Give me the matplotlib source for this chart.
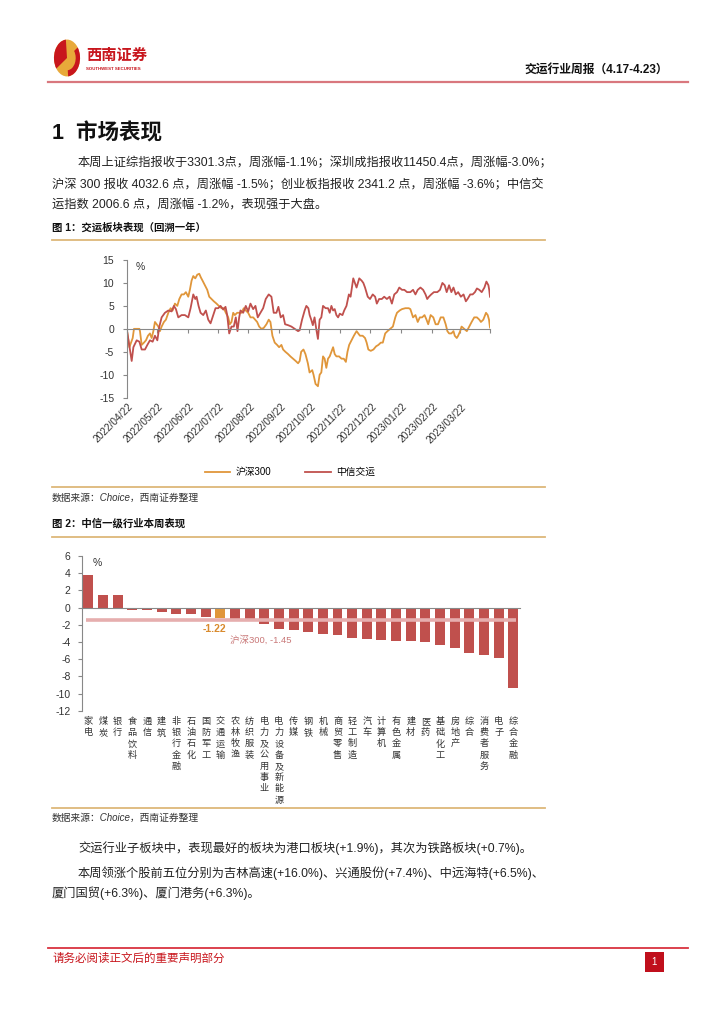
import matplotlib
matplotlib.use('Agg')
import matplotlib.pyplot as plt
import matplotlib.transforms as mtransforms
from matplotlib.patches import Rectangle, Circle, Wedge
from matplotlib.lines import Line2D
import pandas as pd

plt.rcParams['font.family'] = ['Liberation Sans', 'Noto Sans CJK SC', 'DejaVu Sans']
plt.rcParams['axes.unicode_minus'] = False

# ---------------- data: chart 1 (days since 2022-04-22, % cumulative) ----------------
start_date = '2022-04-22'
tick_labels = ['2022/04/22', '2022/05/22', '2022/06/22', '2022/07/22', '2022/08/22', '2022/09/22',
               '2022/10/22', '2022/11/22', '2022/12/22', '2023/01/22', '2023/02/22', '2023/03/22']
end_date = '2023-04-22'

traffic_days = [0, 5, 6.7, 10, 12.7, 15, 18.3, 20.7, 23.3, 26, 28.3, 30.7, 32.7, 35, 38.3, 41.7, 45, 47.3,
                49.3, 51.7, 55, 58.3, 61.7, 64, 66.7, 68.7, 70, 72, 74, 76.7, 79.3, 81.7, 84, 86.7, 89,
                91.7, 94, 96.7, 99, 100.7, 102.7, 105, 107.3, 109.3, 111, 112.7, 114, 116.7, 119.3, 121.7,
                124, 126.7, 129, 131.3, 134, 136.7, 139.3, 142.3, 145, 147.3, 150, 152, 154.3, 156.7,
                158.7, 161.7, 165, 168.3, 171.7, 173.3, 175.7, 178.3, 180, 182, 183.3, 184.9, 186.5,
                188.2, 189.9, 191.6, 193.3, 195, 196.7, 199.3, 201.7, 203.4, 205.1, 206.8, 208.4, 210.1,
                211.8, 213.5, 216.2, 217.9, 220.2, 222.6, 224.3, 227, 228.7, 230.3, 233, 235.4, 237.1,
                238.8, 241.5, 243.8, 246.5, 248.9, 250.6, 252.9, 255.6, 258, 260.7, 263.4, 265.7, 268.1,
                270.8, 273.1, 275.8, 278.2, 280.9, 284.2, 286.9, 289.3, 291.6, 294.3, 297, 299.4, 301.1,
                302.8, 305.1, 307.8, 311.2, 313.9, 316.3, 318.6, 320.6, 323, 325.3, 327.4, 329.7, 332.1,
                334.8, 337.5, 339.8, 341.5, 344.2, 346.6, 348.9, 350.9, 353.3, 355.7, 358.4, 360.4,
                362.4, 363.2, 364]
traffic_vals = [0, -7.0, -4.0, -2.5, -2.8, -4.5, -4.5, -3.5, -2.5, -2.8, -1.5, -2.5, 0.5, 2.5, 3.5, 4.0,
                3.8, 5.0, 4.3, 2.5, 3.0, 3.0, 2.5, 4.5, 7.5, 6.5, 7.0, 5.0, 3.5, 3.0, 4.0, 2.0, 1.2, 3.0,
                4.5, 4.5, 5.0, 4.2, 4.8, 3.0, -1.0, 0.5, 0.5, 2.5, -0.5, 2.5, 4.0, 3.5, 5.0, 3.8, 5.5,
                4.3, 5.0, 2.5, 3.5, 4.5, 6.5, 7.5, 7.0, 3.5, 3.5, 4.8, 2.5, 3.0, 1.0, 0.8, 0.5, 0, -0.5,
                -0.3, 2.0, 4.0, 5.0, 4.5, 3.0, 2.0, 0.8, 2.5, 0, -2.2, 2.0, 2.5, 5.0, 4.5, 4.5, 3.5,
                5.0, 4.0, 4.3, 3.0, 2.5, 3.3, 3.0, 4.0, 5.0, 7.5, 7.0, 11.0, 10.0, 9.0, 11.0, 10.5,
                10.0, 9.0, 7.0, 6.5, 7.5, 7.0, 5.5, 6.5, 6.5, 7.0, 6.5, 7.0, 5.5, 7.5, 8.0, 9.0, 8.5,
                8.5, 8.0, 8.0, 8.5, 7.5, 8.5, 9.0, 8.5, 7.5, 6.5, 7.0, 7.5, 8.0, 8.0, 8.5, 10.0, 9.5,
                8.0, 9.5, 8.0, 9.0, 7.5, 8.0, 7.0, 7.5, 6.0, 6.5, 7.5, 7.5, 8.0, 8.8, 8.5, 8.0, 9.0,
                10.3, 9.5, 8.5, 7.0]

hs300_days = [0, 2.7, 4.3, 6, 7.3, 10, 12.7, 13.3, 15, 17.3, 19.3, 21.3, 23.3, 25, 26.7, 28.3, 30, 31.7,
              33.3, 35, 37.3, 39.3, 41.7, 44, 46, 48.3, 50.7, 52.7, 55, 57.3, 59.3, 61.7, 63.3, 65, 66.7,
              68.7, 70.7, 72.7, 74.3, 76, 78.3, 80.7, 82.7, 85, 87.3, 90, 92.3, 95, 97.3, 99.3, 101.7,
              103.3, 105, 106.7, 108.3, 110.7, 112.7, 115, 117.3, 119.3, 121.7, 124, 126.7, 128.7, 130.7,
              132.7, 135, 137.3, 140, 142.3, 144, 146, 148.3, 150.7, 152.7, 155, 156.7, 159, 161.7, 164,
              166.7, 169.3, 171.7, 173.3, 174.8, 177.1, 179.1, 181.5, 183.2, 185.9, 187.2, 189.2, 191.6,
              193.3, 195, 196.7, 198.3, 200, 201.7, 203.4, 205.1, 206.8, 208.4, 210.1, 212.8, 215.2,
              217.5, 219.6, 221.2, 222.9, 225.3, 227.6, 230.3, 232, 233.7, 236.4, 238.8, 240.4, 242.1,
              244.5, 247.2, 249.9, 252.2, 254.6, 256.6, 259, 261.3, 264, 266.7, 269.1, 270.8, 273.5,
              275.8, 279.2, 282.6, 284.2, 286.9, 289.3, 291.6, 293.7, 296, 298.4, 300.4, 302.1, 304.5,
              307.2, 309.5, 311.9, 314.6, 317.3, 319.6, 321.3, 323, 325.3, 327.4, 328.7, 330.7, 332.1,
              334.1, 335.5, 338.1, 340.8, 343.2, 345.6, 348.2, 350.9, 353.3, 354.9, 357.3, 360, 361.7,
              363, 364]
hs300_vals = [0, -4.0, -3.0, -2.0, 0, 0, 0, -0.5, -3.5, -3.0, -2.5, -1.5, -1.0, -2.0, -0.5, 1.5, 1.0,
              0.5, -0.5, 0.5, 1.5, 2.0, 3.5, 4.5, 4.0, 5.5, 5.0, 6.5, 7.5, 7.5, 8.0, 7.0, 8.5, 10.5,
              11.5, 11.0, 11.8, 12.0, 11.2, 10.5, 9.5, 8.5, 7.0, 6.5, 6.0, 5.5, 5.0, 4.5, 4.5, 3.5,
              2.5, 1.0, 1.5, 3.5, 3.0, 3.5, 3.5, 3.5, 4.5, 4.0, 3.5, 2.5, 2.5, 2.0, 1.5, 0.5, 0, 0.2,
              1.0, 2.0, 1.5, -1.5, -3.0, -3.5, -4.0, -3.5, -4.5, -5.0, -5.5, -6.0, -6.5, -7.0, -7.5,
              -7.0, -5.0, -4.5, -5.5, -7.5, -9.5, -9.0, -10.0, -12.0, -12.5, -10.0, -9.5, -6.0, -6.5,
              -8.5, -6.5, -6.0, -5.0, -4.0, -5.5, -6.0, -6.0, -6.5, -6.5, -7.2, -5.0, -3.5, -2.5, -1.5,
              -0.5, -1.0, -1.5, -1.5, -2.0, -3.0, -4.5, -4.8, -4.5, -3.8, -3.5, -3.0, -3.0, -1.0, -0.5,
              0, 0.5, 2.5, 3.5, 4.0, 4.3, 4.5, 4.5, 4.3, 2.5, 3.0, 1.5, 2.5, 2.5, 3.0, 2.0, 1.0, 3.0,
              2.5, 1.0, 1.0, 2.5, 2.5, 1.0, -0.5, -1.0, -1.0, -0.5, -1.5, -2.0, -1.5, -0.5, 0.5, 0,
              -0.5, 0.5, 1.5, 2.5, 2.5, 2.0, 1.5, 2.0, 3.5, 3.0, 2.0, 0.3]

# ---------------- data: chart 2 ----------------
industries = ['家电', '煤炭', '银行', '食品饮料', '通信', '建筑', '非银行金融', '石油石化', '国防军工',
              '交通运输', '农林牧渔', '纺织服装', '电力及公用事业', '电力设备及新能源', '传媒', '钢铁',
              '机械', '商贸零售', '轻工制造', '汽车', '计算机', '有色金属', '建材', '医药', '基础化工',
              '房地产', '综合', '消费者服务', '电子', '综合金融']
weekly_change = [3.8, 1.45, 1.45, -0.3, -0.3, -0.55, -0.7, -0.75, -1.1, -1.22, -1.3, -1.45, -1.95,
                 -2.55, -2.65, -2.8, -3.05, -3.15, -3.5, -3.6, -3.8, -3.85, -3.85, -4.0, -4.3, -4.7,
                 -5.25, -5.55, -5.9, -9.4]
hs300_week = -1.45
highlight = '交通运输'

W, H = 724, 1024
fig = plt.figure(figsize=(7.24, 10.24), dpi=100)


def P(x, y):
    return (x / W, 1 - y / H)


def hline(y, x0, x1, color, lw):
    fig.add_artist(Line2D([x0 / W, x1 / W], [1 - y / H, 1 - y / H], color=color, lw=lw,
                          transform=fig.transFigure))


CJK = ['Liberation Sans', 'Noto Sans CJK SC']
RED = '#C0504D'
ORANGE = '#E0963A'
GOLD = '#DDB77A'
BODY = 8.8

# ---------------- header ----------------
fig.patches.append(Circle(P(67, 58), 0.018, transform=fig.transFigure, facecolor='#E8A93A',
                          edgecolor='none'))
fig.patches.append(Wedge(P(67, 58), 0.018, 95, 215, transform=fig.transFigure, facecolor='#C8161D',
                         edgecolor='none'))
fig.patches.append(Wedge(P(67, 58), 0.018, 275, 35, transform=fig.transFigure, facecolor='#C8161D',
                         edgecolor='none', width=0.006))
fig.text(*P(86, 56), '西南证券', fontsize=11, fontweight='bold', color='#C8161D', family=CJK,
         va='center', ha='left')
fig.text(*P(86, 69), 'SOUTHWEST SECURITIES', fontsize=3.2, fontweight='bold', color='#C8161D',
         va='center', ha='left')
fig.text(*P(668, 70), '交运行业周报（4.17-4.23）', fontsize=8.5, fontweight='bold', family=CJK,
         ha='right', va='center', color='#111111')
hline(82, 48, 688, '#D9777E', 1.6)

# ---------------- section heading & paragraph ----------------
fig.text(*P(52, 134), '1  市场表现', fontsize=15.5, fontweight='bold', family=CJK, va='center',
         ha='left', color='#111111')
para = [(78, 163, '本周上证综指报收于3301.3点，周涨幅-1.1%；深圳成指报收11450.4点，周涨幅-3.0%；'),
        (52, 185, '沪深 300 报收 4032.6 点，周涨幅 -1.5%；创业板指报收 2341.2 点，周涨幅 -3.6%；中信交'),
        (52, 205, '运指数 2006.6 点，周涨幅 -1.2%，表现强于大盘。')]
for x, y, s in para:
    fig.text(*P(x, y), s, fontsize=BODY, family=CJK, va='center', ha='left', color='#222222')

fig.text(*P(52, 228), '图 1：交运板块表现（回溯一年）', fontsize=7.5, fontweight='bold', family=CJK,
         va='center', ha='left', color='#111111')
hline(239.5, 52, 545, GOLD, 1.3)

# ---------------- chart 1 ----------------
t0 = pd.Timestamp(start_date)
tick_days = [(pd.Timestamp(s.replace('/', '-')) - t0).days for s in tick_labels]
end_day = (pd.Timestamp(end_date) - t0).days

ax1 = fig.add_axes([126.7 / W, 1 - 397.7 / H, (490 - 126.7) / W, (397.7 - 260) / H])
ax1.plot(hs300_days, hs300_vals, color=ORANGE, lw=1.3, label='沪深300')
ax1.plot(traffic_days, traffic_vals, color=RED, lw=1.3, label='中信交运')
ax1.set_xlim(0, end_day - 1)
ax1.set_ylim(-15, 15)
ax1.set_yticks(range(-15, 16, 5))
for sp in ['top', 'right']:
    ax1.spines[sp].set_visible(False)
ax1.spines['left'].set_color('#888888')
ax1.spines['left'].set_linewidth(0.8)
ax1.spines['bottom'].set_position(('data', 0))
ax1.spines['bottom'].set_color('#888888')
ax1.spines['bottom'].set_linewidth(0.8)
ax1.set_xticks(tick_days + [end_day - 1])
ax1.tick_params(axis='x', direction='out', length=3, color='#888888', labelbottom=False)
ax1.tick_params(axis='y', direction='out', length=3, color='#888888', labelsize=7.5,
                labelcolor='#333333', pad=6)
trans1 = mtransforms.blended_transform_factory(ax1.transData, ax1.transAxes)
for d, lab in zip(tick_days, tick_labels):
    ax1.text(d + 1, -0.03, lab, transform=trans1, rotation=45, ha='right', va='top',
             rotation_mode='anchor', fontsize=7.3, color='#333333')
ax1.text(0.025, 0.985, '%', transform=ax1.transAxes, fontsize=7.5, color='#333333', va='top')

handles = [Line2D([], [], color=ORANGE, lw=1.3), Line2D([], [], color=RED, lw=1.3)]
fig.legend(handles, ['沪深300', '中信交运'], loc='center', bbox_to_anchor=P(290, 472), ncol=2,
           frameon=False, handlelength=2.6, columnspacing=3.5, handletextpad=0.6,
           prop={'family': CJK, 'size': 7})

hline(486.5, 52, 545, GOLD, 1.3)
fig.text(*P(52, 498), '数据来源：Choice，西南证券整理', fontsize=7, style='italic', family=CJK,
         va='center', ha='left', color='#333333')
fig.text(*P(52, 523), '图 2：中信一级行业本周表现', fontsize=7.5, fontweight='bold', family=CJK,
         va='center', ha='left', color='#111111')
hline(537, 52, 545, GOLD, 1.3)

# ---------------- chart 2 ----------------
ax2 = fig.add_axes([81.7 / W, 1 - 710.7 / H, (520 - 81.7) / W, (710.7 - 556) / H])
xs = list(range(len(industries)))
cols = [ORANGE if n == highlight else RED for n in industries]
ax2.bar(xs, weekly_change, width=0.68, color=cols, zorder=2)
ax2.plot([xs[0] - 0.15, xs[-1] + 0.15], [hs300_week, hs300_week], color='#E6AEAE', lw=2.6,
         zorder=3, solid_capstyle='butt')
ax2.set_xlim(-0.45, len(industries) - 0.55)
ax2.set_ylim(-12, 6)
ax2.set_yticks(range(-12, 7, 2))
for sp in ['top', 'right']:
    ax2.spines[sp].set_visible(False)
ax2.spines['left'].set_color('#888888')
ax2.spines['left'].set_linewidth(0.8)
ax2.spines['bottom'].set_position(('data', 0))
ax2.spines['bottom'].set_color('#888888')
ax2.spines['bottom'].set_linewidth(0.8)
ax2.set_xticks([])
ax2.tick_params(axis='y', direction='out', length=3, color='#888888', labelsize=7.5,
                labelcolor='#333333', pad=5)
ax2.text(0.025, 0.985, '%', transform=ax2.transAxes, fontsize=7.5, color='#333333', va='top')

hi = industries.index(highlight)
ax2.annotate(f'{weekly_change[hi]:.2f}', xy=(hi, weekly_change[hi]), xytext=(-4, -4),
             textcoords='offset points', ha='center', va='top', fontsize=7.5, fontweight='bold',
             color='#D98B2E')
ax2.annotate(f'沪深300, {hs300_week:.2f}', xy=(hi + 0.68, hs300_week), xytext=(0, -14.5),
             textcoords='offset points', ha='left', va='center', fontsize=6.8, color='#C97878',
             family=CJK)

trans2 = mtransforms.blended_transform_factory(ax2.transData, ax2.transAxes)
for i, name in enumerate(industries):
    ax2.text(i, -0.04, '\n'.join(name), transform=trans2, ha='center', va='top', fontsize=6.6,
             family=['Noto Sans CJK SC'], linespacing=1.32, color='#333333')

hline(808, 52, 545, GOLD, 1.3)
fig.text(*P(52, 818), '数据来源：Choice，西南证券整理', fontsize=7, style='italic', family=CJK,
         va='center', ha='left', color='#333333')

# ---------------- bottom paragraphs ----------------
para2 = [(78, 848, '交运行业子板块中，表现最好的板块为港口板块(+1.9%)，其次为铁路板块(+0.7%)。'),
         (78, 873, '本周领涨个股前五位分别为吉林高速(+16.0%)、兴通股份(+7.4%)、中远海特(+6.5%)、'),
         (52, 893, '厦门国贸(+6.3%)、厦门港务(+6.3%)。')]
for x, y, s in para2:
    fig.text(*P(x, y), s, fontsize=BODY, family=CJK, va='center', ha='left', color='#222222')

# ---------------- footer ----------------
hline(948, 48, 688, '#D9333F', 1.3)
fig.text(*P(52, 959), '请务必阅读正文后的重要声明部分', fontsize=8.3, family=CJK, va='center',
         ha='left', color='#C8161D')
fig.patches.append(Rectangle(P(645, 972), 19 / W, 20 / H, transform=fig.transFigure,
                             facecolor='#C00F1C', edgecolor='none'))
fig.text(*P(654.5, 962), '1', fontsize=7, color='white', ha='center', va='center')

fig.savefig('out.png', dpi=100, facecolor='white')
